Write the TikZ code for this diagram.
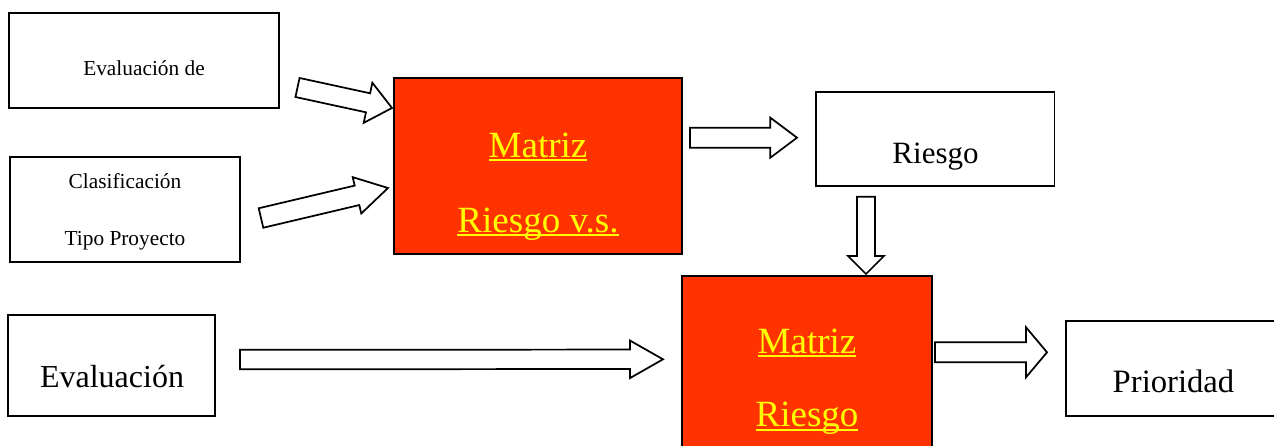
\documentclass[tikz,border=0pt]{standalone}
\usepackage{fontspec}
\setmainfont{Liberation Serif}
\usetikzlibrary{calc,fit}
\definecolor{mred}{HTML}{FF3300}
\definecolor{myel}{HTML}{FFFF00}
\newcommand\myul[1]{\setbox0\hbox{#1}\rlap{\rule[-3pt]{\wd0}{1.5pt}}\box0}
\newcommand\blockarrow[5]{%
  \coordinate (hb) at ($(#2)!#5!(#1)$);
  \draw[barrow] ($(#1)!#3!90:(#2)$) -- ($(hb)!#3!90:(#2)$) -- ($(hb)!#4!90:(#2)$) -- (#2)
    -- ($(hb)!#4!-90:(#2)$) -- ($(hb)!#3!-90:(#2)$) -- ($(#1)!#3!-90:(#2)$) -- cycle;}
\tikzset{
  wbox/.style={draw=black, line width=1.4pt, fill=white, inner sep=0pt},
  rbox/.style={draw=black, line width=1.3pt, fill=mred, inner sep=0pt},
  barrow/.style={draw=black, line width=1.3pt, fill=white, line join=miter},
  txt/.style={anchor=base, inner sep=0pt},
  small/.style={txt, font=\fontsize{16}{19}\selectfont},
  mtx/.style={txt, text=myel, font=\fontsize{27.75}{32}\selectfont},
}
\begin{document}
\begin{tikzpicture}[x=0.75pt, y=-0.75pt]
\useasboundingbox (0,0) rectangle (1274,446);
% boxes
\node[wbox, fit={(9,13) (279,108)}] (b1) {};
\node[wbox, fit={(10,157) (240,262)}] (b2) {};
\node[rbox, fit={(394,78) (682,254)}] (m1) {};
\node[wbox, fit={(816,92) (1054.5,186)}] (r) {};
\node[wbox, fit={(8,315) (215,416)}] (e) {};
\node[rbox, fit={(682,276) (932,470)}] (m2) {};
\node[wbox, fit={(1066,321) (1290,416)}] (p) {};
% texts
\node[small] (t1) at (144,75) {Evaluación de};
\node[small] (t2) at (125,188) {Clasificación};
\node[small] (t3) at (125,245) {Tipo Proyecto};
\node[mtx] (t4) at (538,157) {\myul{Matriz}};
\node[mtx] (t5) at (538,232) {\myul{Riesgo v.s.}};
\node[txt, font=\fontsize{23.25}{28}\selectfont] (t6) at (935.5,163) {Riesgo};
\node[txt, font=\fontsize{24}{29}\selectfont] (t7) at (112,387.5) {Evaluación};
\node[mtx] (t8) at (807,353) {\myul{Matriz}};
\node[mtx] (t9) at (807,426.7) {\myul{Riesgo}};
\node[txt, font=\fontsize{24.5}{29}\selectfont] (t10) at (1173.5,392.7) {Prioridad};
% arrow end points
\coordinate (a1s) at (297.5,87.5);  \coordinate (a1e) at (392,108);
\coordinate (a2s) at (261,218);     \coordinate (a2e) at (388,188);
\coordinate (a3s) at (690,137.7);   \coordinate (a3e) at (797,137.7);
\coordinate (a4s) at (866,196.7);   \coordinate (a4e) at (866,274);
\coordinate (a5s) at (240,359.5);   \coordinate (a5e) at (663,359.3);
\coordinate (a6s) at (935,352.3);   \coordinate (a6e) at (1047,352.3);
\blockarrow{a1s}{a1e}{7.3pt}{15.4pt}{18.4pt}
\blockarrow{a2s}{a2e}{7.5pt}{14pt}{23.9pt}
\blockarrow{a3s}{a3e}{7.5pt}{15pt}{20pt}
\blockarrow{a4s}{a4e}{6.75pt}{13.5pt}{13.5pt}
\blockarrow{a5s}{a5e}{7.3pt}{14.1pt}{24.8pt}
\blockarrow{a6s}{a6e}{7.5pt}{18.75pt}{15.75pt}
\end{tikzpicture}
\end{document}
